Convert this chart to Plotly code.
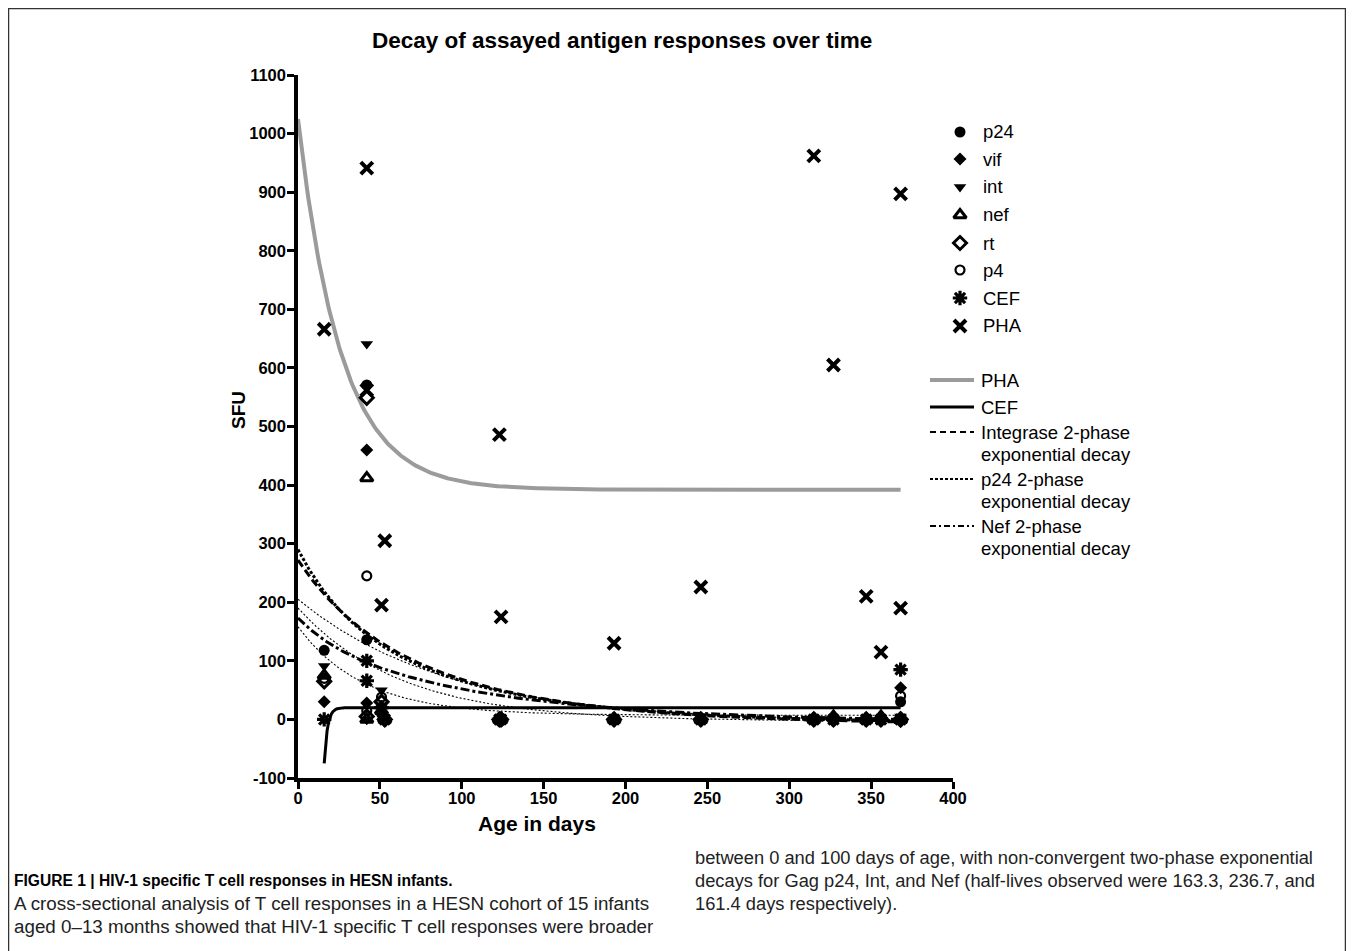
import numpy as np
import plotly.graph_objects as go

W, H = 1354, 951
OFF = 8  # page offset compensation (body margin)

# ---------------- data ----------------
ages = [16, 42, 42, 51, 53, 123, 124, 193, 246, 315, 327, 347, 356, 368, 368]
pha = [666, 941, 562, 195, 305, 486, 175, 130, 226, 962, 605, 210, 115, 897, 190]
p24 = [118, 571, 136, 10, 0, 0, 0, 0, 0, 0, 0, 0, 0, 30, 0]
vif = [30, 460, 28, 22, 0, 0, 0, 0, 0, 0, 0, 0, 0, 54, 0]
int_ = [91, 641, 0, 50, 0, 0, 0, 0, 0, 0, 0, 0, 0, 5, 0]
nef = [75, 412, 0, 15, 0, 0, 0, 0, 0, 0, 5, 0, 5, 0, 0]
rt = [65, 549, 5, 30, 0, 0, 0, 0, 0, 0, 0, 0, 0, 0, 0]
p4 = [70, 245, 15, 38, 0, 0, 0, 0, 0, 0, 0, 0, 0, 40, 0]
cef = [0, 100, 66, 20, 0, 0, 0, 0, 0, 0, 0, 0, 0, 85, 0]

# fitted-curve parameters (plateau, span_fast, k_fast, span_slow, k_slow, x_start, x_end)
fit_pha = (392, 0, 0.0, 633, 0.038, 0, 368)
fit_cef = (20, 0, 0.0, -95, 0.5, 16, 368)
fit_int = (-8, 60, 0.03, 220, 0.011, 0, 368)
fit_p24 = (-6, 90, 0.035, 206, 0.011, 0, 368)
fit_nef = (-5, 40, 0.04, 138, 0.009, 0, 368)
fit_thin = [(-5, 0, 0.0, 210, 0.011, 0, 368),
            (-3, 0, 0.0, 193, 0.016, 0, 368),
            (7, 0, 0.0, 151, 0.025, 0, 368)]

x_ticks = list(range(0, 401, 50))
y_ticks = list(range(-100, 1101, 100))
FONT = "Arial, Liberation Sans, sans-serif"


def curve(p):
    plateau, sf, kf, ss, ks, x0, x1 = p
    x = np.linspace(x0, x1, 400)
    t = x - x0
    return x, plateau + sf * np.exp(-kf * t) + ss * np.exp(-ks * t)


def px(xp):
    return (xp - OFF) / W


def py(yp):
    return 1 - (yp - OFF) / H


fig = go.Figure()

# curves
for p in fit_thin:
    x, y = curve(p)
    fig.add_trace(go.Scatter(x=x, y=y, mode="lines",
                             line=dict(color="black", width=1.1, dash="2px,2px")))
x, y = curve(fit_pha)
fig.add_trace(go.Scatter(x=x, y=y, mode="lines", line=dict(color="#9b9b9b", width=4)))
x, y = curve(fit_cef)
fig.add_trace(go.Scatter(x=x, y=y, mode="lines", line=dict(color="black", width=3)))
x, y = curve(fit_int)
fig.add_trace(go.Scatter(x=x, y=y, mode="lines", line=dict(color="black", width=3, dash="8px,4px")))
x, y = curve(fit_p24)
fig.add_trace(go.Scatter(x=x, y=y, mode="lines", line=dict(color="black", width=3, dash="3px,2px")))
x, y = curve(fit_nef)
fig.add_trace(go.Scatter(x=x, y=y, mode="lines", line=dict(color="black", width=3, dash="9px,3px,3px,3px")))

# markers
styles = [
    ("p24", p24, dict(symbol="circle", size=11, color="black")),
    ("vif", vif, dict(symbol="diamond", size=10, color="black")),
    ("int", int_, dict(symbol="triangle-down", size=11, color="black")),
    ("nef", nef, dict(symbol="triangle-up-open", size=11, color="black", line=dict(color="black", width=3))),
    ("rt", rt, dict(symbol="diamond-open", size=10, color="black", line=dict(color="black", width=3))),
    ("p4", p4, dict(symbol="circle-open", size=9, color="black", line=dict(color="black", width=2.2))),
    ("CEF", cef, dict(symbol="asterisk-open", size=12, color="black", line=dict(color="black", width=3.2))),
    ("PHA", pha, dict(symbol="x-thin-open", size=12, color="black", line=dict(color="black", width=4))),
]
for name, vals, mk in styles:
    fig.add_trace(go.Scatter(x=ages, y=vals, mode="markers", marker=mk, name=name, cliponaxis=False))

# ---------------- manual legend (pixel axes x2/y2) ----------------
leg_y = [132, 159, 187, 215, 243, 270, 298, 326]
for (name, vals, mk), yy in zip(styles, leg_y):
    fig.add_trace(go.Scatter(x=[960], y=[yy], xaxis="x2", yaxis="y2", mode="markers", marker=mk))
    fig.add_annotation(x=px(981), y=py(yy), xref="paper", yref="paper", text=name, showarrow=False,
                       xanchor="left", yanchor="middle", font=dict(family=FONT, size=18.5, color="black"))

line_leg = [
    ("PHA", 380, dict(color="#9b9b9b", width=4), None),
    ("CEF", 407, dict(color="black", width=3), None),
    ("Integrase 2-phase", 432, dict(color="black", width=2, dash="6px,4px"), "exponential decay"),
    ("p24 2-phase", 479, dict(color="black", width=2, dash="3px,2px"), "exponential decay"),
    ("Nef 2-phase", 526, dict(color="black", width=2, dash="6px,3px,2px,3px"), "exponential decay"),
]
for name, yy, ln, second in line_leg:
    fig.add_trace(go.Scatter(x=[930, 974], y=[yy, yy], xaxis="x2", yaxis="y2", mode="lines", line=ln))
    fig.add_annotation(x=px(979), y=py(yy), xref="paper", yref="paper", text=name, showarrow=False,
                       xanchor="left", yanchor="middle", font=dict(family=FONT, size=18.5, color="black"))
    if second:
        fig.add_annotation(x=px(979), y=py(yy + 22), xref="paper", yref="paper", text=second, showarrow=False,
                           xanchor="left", yanchor="middle", font=dict(family=FONT, size=18.5, color="black"))

# titles
fig.add_annotation(x=px(622), y=py(40), xref="paper", yref="paper",
                   text="<b>Decay of assayed antigen responses over time</b>", showarrow=False,
                   xanchor="center", yanchor="middle", font=dict(family=FONT, size=22.5, color="black"))
fig.add_annotation(x=px(238), y=py(410), xref="paper", yref="paper", text="<b>SFU</b>", textangle=-90,
                   showarrow=False, xanchor="center", yanchor="middle",
                   font=dict(family=FONT, size=19, color="black"))
fig.add_annotation(x=px(537), y=py(823), xref="paper", yref="paper", text="<b>Age in days</b>",
                   showarrow=False, xanchor="center", yanchor="middle",
                   font=dict(family=FONT, size=21, color="black"))

# caption
CAP = "Liberation Sans Narrow, Arial Narrow, Liberation Sans, sans-serif"
fig.add_annotation(x=px(12), y=py(880), xref="paper", yref="paper",
                   text="<b>FIGURE 1 | HIV-1 specific T cell responses in HESN infants.</b>",
                   showarrow=False, xanchor="left", yanchor="middle", font=dict(family=CAP, size=15.6, color="black"))
cap_left = ["A cross-sectional analysis of T cell responses in a HESN cohort of 15 infants",
            "aged 0\u201313 months showed that HIV-1 specific T cell responses were broader"]
cap_right = ["between 0 and 100 days of age, with non-convergent two-phase exponential",
             "decays for Gag p24, Int, and Nef (half-lives observed were 163.3, 236.7, and",
             "161.4 days respectively)."]
for i, t in enumerate(cap_left):
    fig.add_annotation(x=px(12), y=py(903 + 23 * i), xref="paper", yref="paper", text=t, showarrow=False,
                       xanchor="left", yanchor="middle", font=dict(family=CAP, size=18.8, color="#222"))
for i, t in enumerate(cap_right):
    fig.add_annotation(x=px(693), y=py(857 + 23 * i), xref="paper", yref="paper", text=t, showarrow=False,
                       xanchor="left", yanchor="middle", font=dict(family=CAP, size=18.3, color="#222"))

# frame
fig.add_shape(type="rect", xref="paper", yref="paper", x0=px(8.5), x1=px(1345.5), y0=py(975), y1=py(8.5),
              line=dict(color="#333", width=1.5))

fig.update_layout(
    width=W, height=H, margin=dict(l=0, r=0, t=0, b=0, pad=0, autoexpand=False),
    paper_bgcolor="white", plot_bgcolor="rgba(0,0,0,0)", showlegend=False,
    xaxis=dict(domain=[(298 - OFF) / W, (953 - OFF) / W], range=[0, 400], tickvals=x_ticks,
               ticktext=[str(v) for v in x_ticks], ticklabelstandoff=-5,
               showgrid=False, zeroline=False, showline=True, linecolor="black", linewidth=3.5,
               ticks="outside", ticklen=7, tickwidth=3, tickcolor="black", automargin=False,
               tickfont=dict(family=FONT, size=16.5, color="black", weight="bold"), anchor="y"),
    yaxis=dict(domain=[1 - (778 - OFF) / H, 1 - (75 - OFF) / H], range=[-100, 1100], tickvals=y_ticks,
               ticktext=[str(v) for v in y_ticks], automargin=False, ticklabelstandoff=-2,
               showgrid=False, zeroline=False, showline=True, linecolor="black", linewidth=3.5,
               ticks="outside", ticklen=7, tickwidth=3, tickcolor="black",
               tickfont=dict(family=FONT, size=16.5, color="black", weight="bold"), anchor="x"),
    xaxis2=dict(domain=[0, 1], range=[OFF, W + OFF], visible=False, anchor="y2", automargin=False, fixedrange=True),
    yaxis2=dict(domain=[0, 1], range=[H + OFF, OFF], visible=False, anchor="x2", automargin=False, fixedrange=True),
)

fig.write_html("out.html")
